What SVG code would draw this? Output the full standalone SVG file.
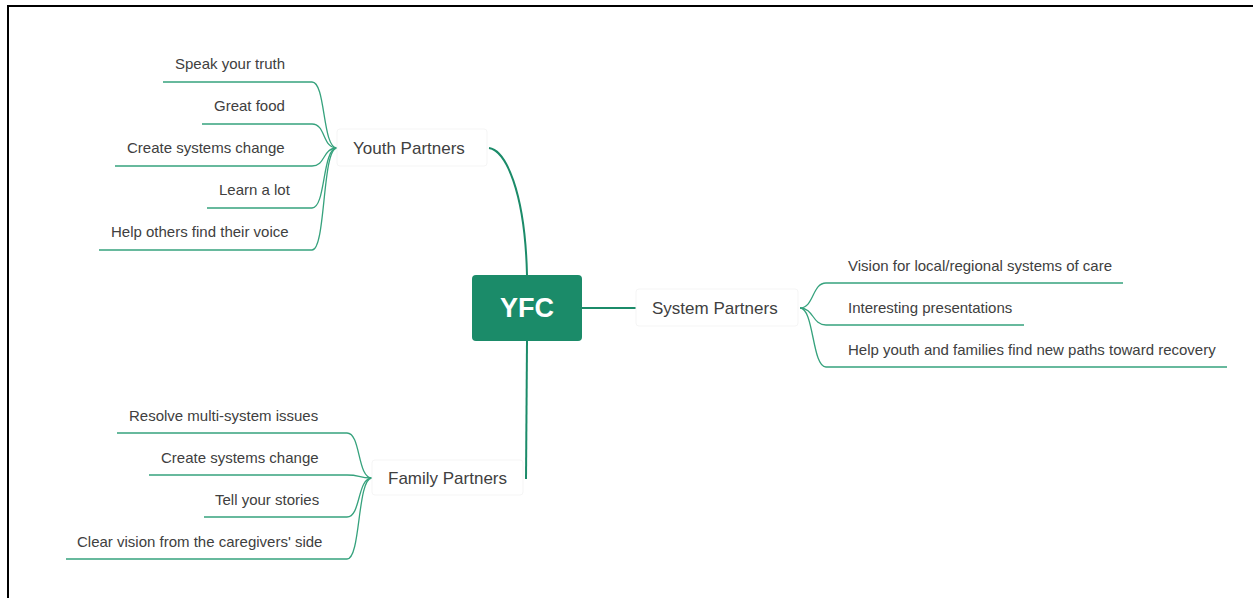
<svg xmlns="http://www.w3.org/2000/svg" width="1253" height="598" viewBox="0 0 1253 598">
  <style>
    .frame { fill: none; stroke: #000; stroke-width: 2; }
    .root rect { fill: #1b8b69; }
    .root text { font-family: "Liberation Sans", Arial, sans-serif; font-size: 27px; font-weight: bold; fill: #fff; text-anchor: middle; }
    .topic rect { fill: #fff; stroke: #f5f5f5; stroke-width: 1; }
    .topic text { font-family: "Liberation Sans", Arial, sans-serif; font-size: 17px; fill: #404040; }
    .leaf text { font-family: "Liberation Sans", Arial, sans-serif; font-size: 15px; fill: #404040; }
    .main { fill: none; stroke: #1b8b69; stroke-width: 2; }
    .sub { fill: none; stroke: #36a27d; stroke-width: 1.3; }
  </style>

  <!-- page frame (top and left edges only) -->
  <path class="frame" d="M8,598 V6 H1253"/>

  <!-- connectors -->
  <g id="connectors">
    <!-- root to main topics -->
    <path class="main" d="M489,148 C505,150 525,190 527,275"/>
    <path class="main" d="M582,308 H636"/>
    <path class="main" d="M527,341 L526,479"/>

    <!-- Youth Partners branch -->
    <path class="sub" d="M163,82 H312 C326,82 322,148 337,148"/>
    <path class="sub" d="M202,124 H312 C326,124 322,148 337,148"/>
    <path class="sub" d="M115,166 H312 C326,166 322,148 337,148"/>
    <path class="sub" d="M207,208 H312 C326,208 322,148 337,148"/>
    <path class="sub" d="M99,250 H312 C326,250 322,148 337,148"/>

    <!-- System Partners branch -->
    <path class="sub" d="M800,308 C814,308 812,283 826,283 H1123"/>
    <path class="sub" d="M800,308 C814,308 812,325 826,325 H1024"/>
    <path class="sub" d="M800,308 C814,308 812,367 826,367 H1227"/>

    <!-- Family Partners branch -->
    <path class="sub" d="M117,433 H347 C361,433 357,478 372,478"/>
    <path class="sub" d="M149,475 H347 C361,475 357,478 372,478"/>
    <path class="sub" d="M204,517 H347 C361,517 357,478 372,478"/>
    <path class="sub" d="M66,559 H347 C361,559 357,478 372,478"/>
  </g>

  <!-- central node -->
  <g id="yfc" class="root">
    <rect x="472" y="275" width="110" height="66" rx="4"/>
    <text x="527" y="317">YFC</text>
  </g>

  <!-- main topics -->
  <g id="youth-partners" class="topic">
    <rect x="337" y="129" width="150" height="37" rx="3"/>
    <text x="353" y="154">Youth Partners</text>
  </g>
  <g id="system-partners" class="topic">
    <rect x="636" y="289" width="162" height="37" rx="3"/>
    <text x="652" y="314">System Partners</text>
  </g>
  <g id="family-partners" class="topic">
    <rect x="372" y="460" width="151" height="35" rx="3"/>
    <text x="388" y="484">Family Partners</text>
  </g>

  <!-- Youth Partners subtopics -->
  <g id="youth-speak" class="leaf"><text x="175" y="69">Speak your truth</text></g>
  <g id="youth-food" class="leaf"><text x="214" y="111">Great food</text></g>
  <g id="youth-change" class="leaf"><text x="127" y="153">Create systems change</text></g>
  <g id="youth-learn" class="leaf"><text x="219" y="195">Learn a lot</text></g>
  <g id="youth-voice" class="leaf"><text x="111" y="237">Help others find their voice</text></g>

  <!-- System Partners subtopics -->
  <g id="system-vision" class="leaf"><text x="848" y="271">Vision for local/regional systems of care</text></g>
  <g id="system-presentations" class="leaf"><text x="848" y="313">Interesting presentations</text></g>
  <g id="system-recovery" class="leaf"><text x="848" y="355">Help youth and families find new paths toward recovery</text></g>

  <!-- Family Partners subtopics -->
  <g id="family-resolve" class="leaf"><text x="129" y="421">Resolve multi-system issues</text></g>
  <g id="family-change" class="leaf"><text x="161" y="463">Create systems change</text></g>
  <g id="family-stories" class="leaf"><text x="215" y="505">Tell your stories</text></g>
  <g id="family-vision" class="leaf"><text x="77" y="547">Clear vision from the caregivers' side</text></g>
</svg>
